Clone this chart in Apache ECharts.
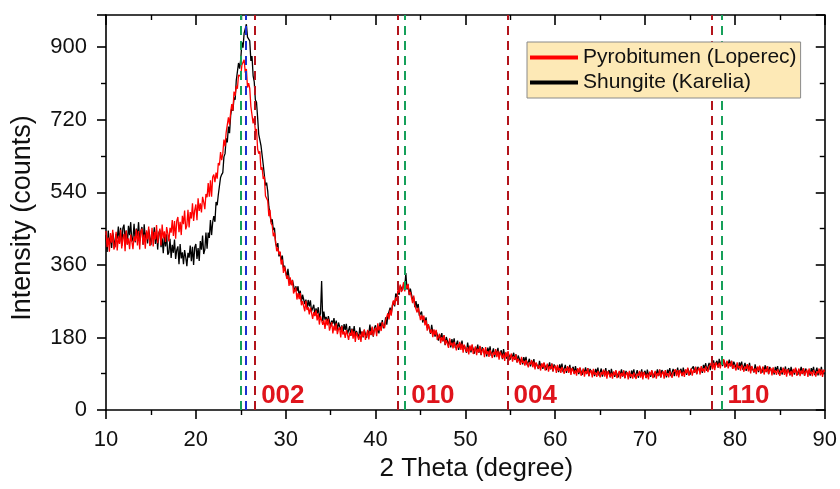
<!DOCTYPE html>
<html>
<head>
<meta charset="utf-8">
<title>XRD patterns</title>
<script src="https://cdn.jsdelivr.net/npm/echarts@6/dist/echarts.min.js"></script>
<style>
  html, body { margin: 0; padding: 0; background: #fff; }
  #chart { width: 840px; height: 489px; }
</style>
</head>
<body>
<div id="chart"></div>
<script>
// Diffractogram sampling grid (degrees 2θ)
const thetaStart = 10;
const thetaStep = 0.125;

// Pyrobitumen (Loperec) intensities, one row per degree (8 samples each)
const pyrobitumen = [
  444, 404, 428, 393, 439, 415, 447, 398,   // 10
  406, 442, 396, 431, 412, 447, 401, 425,
  437, 394, 445, 410, 426, 399, 435, 418,
  399, 431, 419, 448, 408, 444, 398, 442,
  450, 410, 435, 400, 446, 423, 455, 407,
  415, 452, 406, 442, 423, 459, 414, 438,   // 15
  450, 408, 460, 426, 443, 417, 454, 438,
  418, 452, 440, 471, 432, 469, 425, 469,
  479, 441, 467, 434, 482, 461, 495, 448,
  458, 497, 453, 491, 475, 513, 469, 496,
  510, 471, 525, 494, 513, 490, 529, 516,   // 20
  498, 536, 528, 563, 529, 570, 529, 578,
  584, 565, 589, 574, 613, 607, 640, 620,
  636, 671, 654, 689, 690, 726, 708, 739,
  759, 743, 790, 780, 804, 797, 831, 832,
  829, 856, 853, 869, 837, 846, 800, 811,   // 25
  798, 753, 752, 711, 725, 691, 697, 648,
  636, 642, 596, 602, 573, 579, 531, 531,
  519, 481, 497, 463, 458, 431, 440, 418,
  394, 403, 386, 393, 361, 373, 340, 356,
  354, 325, 334, 308, 329, 309, 322, 289,   // 30
  288, 304, 274, 290, 275, 290, 260, 270,
  272, 245, 271, 248, 255, 237, 254, 241,
  226, 243, 233, 247, 222, 240, 212, 233,
  236, 211, 223, 201, 226, 210, 226, 197,
  199, 218, 190, 209, 197, 215, 188, 200,   // 35
  205, 180, 208, 187, 195, 179, 198, 187,
  174, 192, 184, 200, 177, 196, 169, 193,
  197, 174, 189, 169, 195, 182, 200, 174,
  178, 199, 175, 196, 186, 207, 183, 198,
  205, 183, 215, 197, 208, 196, 218, 210,   // 40
  203, 223, 221, 240, 225, 249, 234, 261,
  272, 260, 279, 270, 299, 291, 311, 293,
  300, 317, 294, 311, 301, 313, 286, 293,
  293, 265, 284, 260, 261, 242, 254, 240,
  223, 235, 223, 234, 210, 223, 197, 213,   // 45
  213, 191, 200, 181, 200, 186, 199, 174,
  174, 189, 166, 181, 171, 186, 162, 173,
  176, 154, 178, 160, 167, 153, 169, 160,
  148, 163, 155, 169, 149, 165, 142, 162,
  165, 144, 156, 138, 160, 147, 163, 139,   // 50
  142, 158, 136, 152, 143, 159, 137, 148,
  153, 131, 156, 138, 146, 132, 149, 140,
  129, 144, 137, 151, 131, 147, 125, 145,
  149, 128, 140, 122, 144, 131, 146, 123,
  126, 140, 120, 133, 125, 138, 118, 127,   // 55
  131, 112, 132, 117, 122, 110, 124, 116,
  106, 118, 113, 124, 106, 120, 101, 118,
  120, 103, 112,  98, 116, 106, 118,  98,
  100, 115,  95, 109, 102, 115,  96, 105,
  110,  92, 112,  98, 104,  92, 107,  99,   // 60
   90, 103,  97, 109,  92, 106,  87, 104,
  107,  90,  99,  85, 104,  93, 106,  85,
   88, 103,  83,  97,  90, 104,  84,  94,
   99,  81, 102,  88,  93,  82,  97,  90,
   81,  94,  88, 100,  83,  98,  78,  96,   // 65
   99,  82,  92,  78,  96,  86,  99,  79,
   82,  97,  78,  92,  84,  98,  79,  89,
   94,  76,  97,  83,  89,  78,  93,  86,
   77,  90,  85,  97,  80,  95,  76,  94,
   97,  80,  90,  76,  95,  86,  99,  79,   // 70
   82,  97,  78,  92,  85, 100,  81,  91,
   96,  78,  99,  85,  91,  81,  96,  89,
   80,  93,  89, 101,  84,  99,  81,  99,
  102,  85,  95,  82, 101,  91, 105,  85,
   88, 103,  85,  99,  93, 107,  89,  99,   // 75
  105,  88, 109,  96, 103,  93, 108, 102,
   94, 108, 104, 117, 101, 117,  99, 118,
  122, 106, 117, 103, 123, 113, 126, 105,
  108, 122, 103, 116, 109, 122, 102, 112,
  116,  98, 118, 104, 109,  98, 112, 105,   // 80
   95, 108, 102, 114,  96, 111,  91, 109,
  111,  94, 103,  89, 108,  98, 110,  90,
   93, 108,  88, 102,  95, 109,  89,  99,
  104,  86, 106,  92,  98,  87, 101,  94,
   85,  98,  93, 105,  87, 102,  83, 101,   // 85
  104,  87,  97,  83, 102,  92, 105,  85,
   88, 103,  84,  98,  90, 104,  85,  95,
  100,  82, 103,  89,  95,  84,  99,  92,
   83,  96,  91, 103,  86, 101,  82, 100,
   95                                       // 90
];

// Shungite (Karelia) intensities, same grid
const shungite = [
  434, 392, 445, 411, 428, 402, 440, 424,   // 10
  404, 437, 425, 455, 416, 452, 407, 451,
  460, 421, 445, 411, 457, 434, 466, 418,
  426, 462, 416, 450, 431, 466, 419, 443,
  454, 410, 461, 425, 441, 413, 448, 431,
  409, 440, 425, 453, 412, 445, 398, 439,   // 15
  446, 404, 426, 389, 433, 406, 436, 385,
  391, 425, 377, 410, 390, 423, 375, 397,
  406, 362, 412, 376, 391, 362, 397, 379,
  357, 390, 378, 408, 369, 405, 360, 404,
  412, 375, 402, 370, 419, 398, 433, 387,   // 20
  398, 440, 400, 440, 427, 471, 434, 466,
  481, 467, 516, 508, 534, 535, 577, 584,
  589, 628, 636, 674, 664, 703, 687, 731,
  751, 742, 775, 770, 818, 820, 861, 847,
  871, 912, 899, 935, 935, 957, 925, 926,   // 25
  916, 866, 878, 829, 814, 769, 764, 726,
  684, 685, 656, 656, 609, 611, 557, 564,
  543, 505, 502, 466, 473, 447, 452, 414,
  405, 414, 381, 391, 371, 383, 352, 358,
  356, 329, 350, 327, 330, 311, 323, 309,   // 30
  293, 307, 295, 307, 282, 296, 268, 286,
  287, 263, 274, 252, 273, 257, 272, 244,
  245, 261, 235, 252, 239, 255, 229, 240,
  320, 220, 244, 224, 231, 215, 233, 220,
  207, 222, 214, 228, 205, 222, 196, 217,   // 35
  220, 198, 210, 190, 213, 199, 214, 188,
  191, 208, 184, 202, 190, 208, 184, 196,
  200, 179, 205, 186, 194, 180, 198, 189,
  179, 196, 189, 212, 186, 204, 182, 204,
  210, 191, 206, 190, 217, 205, 223, 203,   // 40
  208, 230, 212, 234, 230, 254, 239, 258,
  270, 257, 289, 280, 295, 286, 308, 304,
  297, 313, 305, 340, 299, 311, 285, 301,
  300, 273, 279, 255, 270, 252, 263, 234,
  231, 244, 217, 230, 217, 230, 204, 211,   // 45
  212, 189, 211, 192, 197, 182, 196, 186,
  172, 186, 178, 191, 170, 185, 161, 181,
  183, 162, 173, 155, 176, 163, 178, 154,
  156, 172, 149, 165, 156, 172, 149, 160,
  164, 142, 167, 149, 157, 143, 160, 151,   // 50
  140, 155, 148, 162, 142, 158, 136, 156,
  160, 139, 151, 133, 155, 142, 158, 134,
  137, 153, 131, 147, 138, 154, 132, 143,
  148, 126, 151, 133, 141, 127, 143, 135,
  125, 137, 131, 142, 124, 138, 118, 135,   // 55
  137, 119, 128, 113, 131, 120, 132, 111,
  113, 127, 108, 121, 113, 126, 107, 116,
  120, 102, 122, 108, 113, 102, 116, 109,
   99, 112, 106, 118, 101, 115,  96, 113,
  116,  99, 108,  94, 113, 102, 115,  94,   // 60
   97, 112,  92, 106,  99, 112,  93, 102,
  107,  89, 109,  95, 101,  89, 104,  96,
   87, 100,  94, 106,  89, 104,  84, 102,
  105,  88,  98,  84, 102,  92, 105,  85,
   88, 103,  83,  97,  90, 104,  84,  94,   // 65
   99,  81, 102,  88,  93,  82,  97,  90,
   81,  94,  89, 101,  83,  98,  79,  97,
  100,  83,  93,  79,  98,  88, 101,  81,
   84,  99,  80,  94,  87, 101,  82,  92,
   97,  79, 100,  86,  92,  82,  97,  90,   // 70
   81,  94,  89, 101,  84, 100,  81,  99,
  102,  85,  95,  81, 100,  91, 104,  84,
   87, 102,  84,  98,  91, 105,  87,  97,
  102,  84, 105,  92,  98,  87, 103,  96,
   87, 100,  96, 108,  92, 107,  89, 107,   // 75
  111,  95, 105,  92, 112, 103, 116,  97,
  101, 117,  99, 114, 108, 123, 105, 116,
  122, 105, 127, 113, 120, 109, 124, 116,
  107, 119, 114, 125, 108, 122, 102, 120,
  122, 105, 114, 100, 118, 108, 120, 100,   // 80
  102, 117,  97, 111, 103, 117,  97, 107,
  111,  93, 113,  99, 105,  94, 108, 101,
   92, 105,  99, 111,  94, 109,  89, 107,
  110,  93, 102,  88, 107,  97, 109,  89,
   92, 107,  88, 102,  94, 108,  89,  99,   // 85
  104,  86, 107,  93,  99,  88, 103,  96,
   87, 100,  95, 107,  89, 104,  85, 103,
  106,  89,  99,  85, 104,  94, 107,  87,
   90, 105,  86, 100,  93, 107,  88,  98,
   96                                       // 90
];

// Reference reflection positions (2θ) and their marker colours
const refPositions = [25.0, 25.6, 26.6, 42.5, 43.3, 54.7, 77.4, 78.5];
const refColors = ['#16a05a', '#1c2fd0', '#b3141c', '#b3141c', '#16a05a', '#b3141c', '#b3141c', '#16a05a'];

// Miller index labels and the reflection line each one sits beside
const hklNames = ['002', '010', '004', '110'];
const hklAt = [26.6, 43.3, 54.7, 78.5];

const xTicks = { min: 10, max: 90, step: 10 };
const yTicks = { min: 0, max: 980, step: 180 };

const seriesNames = ['Pyrobitumen (Loperec)', 'Shungite (Karelia)'];

function toPairs(values) {
  return values.map((v, i) => [thetaStart + i * thetaStep, v]);
}

const FONT = 'Liberation Sans, Arial, Helvetica, sans-serif';
const AX = '#000';

function frameAxis(base, extra) {
  return Object.assign({
    type: 'value',
    splitLine: { show: false },
    axisLine: { show: true, onZero: false, lineStyle: { color: AX, width: 1.6 } },
    axisTick: { show: true, length: 9, lineStyle: { color: AX, width: 1.6 } },
    minorTick: { show: true, splitNumber: 2, length: 5, lineStyle: { color: AX, width: 1.4 } },
    minorSplitLine: { show: false }
  }, base, extra);
}

const chart = echarts.init(document.getElementById('chart'), null, { renderer: 'canvas' });

chart.setOption({
  animation: false,
  backgroundColor: '#fff',
  textStyle: { fontFamily: FONT },
  grid: { left: 106, right: 14, top: 15, bottom: 79, containLabel: false },
  legend: {
    data: seriesNames,
    orient: 'vertical',
    left: 527,
    top: 42,
    z: 20,
    icon: 'rect',
    itemWidth: 48,
    itemHeight: 4,
    itemGap: 4,
    padding: [5, 4, 5, 3],
    backgroundColor: '#fde9b6',
    borderColor: '#8a8a8a',
    borderWidth: 1,
    borderRadius: 0,
    selectedMode: false,
    textStyle: { fontFamily: FONT, fontSize: 21, color: '#111', lineHeight: 21 }
  },
  xAxis: [
    frameAxis({ min: xTicks.min, max: xTicks.max, interval: xTicks.step, position: 'bottom' }, {
      name: '2 Theta (degree)',
      nameLocation: 'middle',
      nameGap: 46,
      nameTextStyle: { fontFamily: FONT, fontSize: 26, color: '#111', padding: [0, 0, 0, 22] },
      axisLabel: { fontFamily: FONT, fontSize: 22, color: '#111', margin: 19 }
    }),
    frameAxis({ min: xTicks.min, max: xTicks.max, interval: xTicks.step, position: 'top' }, {
      axisTick: { show: true, inside: true, length: 10, lineStyle: { color: AX, width: 1.6 } },
      axisLabel: { show: false }
    })
  ],
  yAxis: [
    frameAxis({ min: yTicks.min, max: yTicks.max, interval: yTicks.step, position: 'left' }, {
      name: 'Intensity (counts)',
      nameLocation: 'middle',
      nameGap: 70,
      nameTextStyle: { fontFamily: FONT, fontSize: 27, color: '#111', padding: [0, 11, 0, 0] },
      axisLabel: { fontFamily: FONT, fontSize: 22, color: '#111', margin: 19, showMaxLabel: false }
    }),
    frameAxis({ min: yTicks.min, max: yTicks.max, interval: yTicks.step, position: 'right' }, {
      axisTick: { show: true, inside: true, length: 9, lineStyle: { color: AX, width: 1.6 } },
      axisLabel: { show: false }
    })
  ],
  series: [
    {
      name: seriesNames[1],
      type: 'line',
      data: toPairs(shungite),
      showSymbol: false,
      symbol: 'none',
      sampling: false,
      color: '#000000',
      lineStyle: { color: '#000000', width: 1.3 },
      z: 2
    },
    {
      name: seriesNames[0],
      type: 'line',
      data: toPairs(pyrobitumen),
      showSymbol: false,
      symbol: 'none',
      sampling: false,
      color: '#ff0000',
      lineStyle: { color: '#ff0000', width: 1.3 },
      z: 3
    },
    {
      name: 'reflections',
      type: 'line',
      data: [],
      z: 4,
      markLine: {
        silent: true,
        symbol: 'none',
        animation: false,
        label: { show: false },
        data: refPositions.map((x, i) => ({
          xAxis: x,
          lineStyle: { color: refColors[i], type: [9, 6], width: 2 }
        }))
      }
    },
    {
      name: 'hkl',
      type: 'scatter',
      symbolSize: 0,
      z: 5,
      silent: true,
      itemStyle: { opacity: 1 },
      data: hklAt.map((x, i) => ({
        value: [x, 0],
        label: { formatter: hklNames[i] }
      })),
      label: {
        show: true,
        position: 'right',
        distance: 6,
        verticalAlign: 'bottom',
        offset: [0, -1],
        fontFamily: FONT,
        fontSize: 26,
        fontWeight: 'bold',
        color: '#e0141c'
      }
    }
  ]
});
</script>
</body>
</html>
